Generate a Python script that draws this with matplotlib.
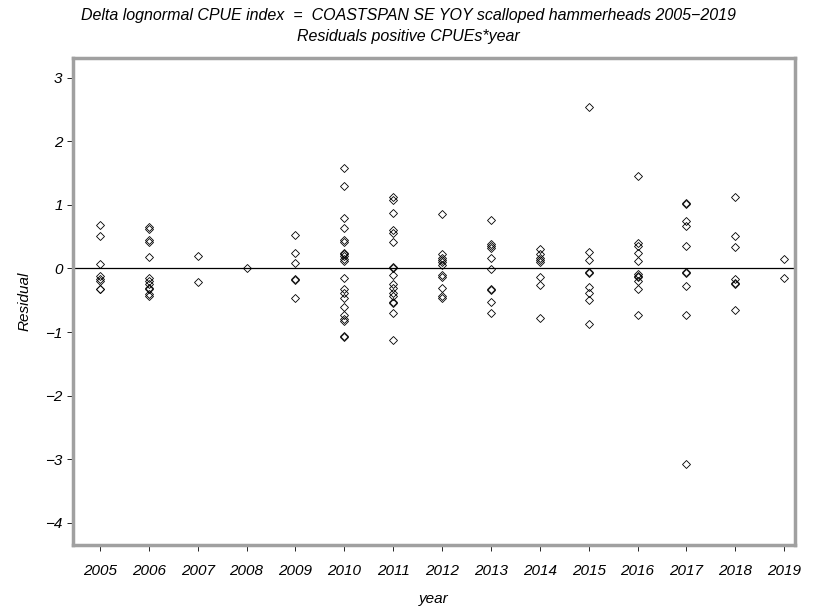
import matplotlib.pyplot as plt
from matplotlib.ticker import MultipleLocator

plt.rcParams['font.family'] = ['Liberation Sans Narrow', 'Liberation Sans', 'DejaVu Sans']
plt.rcParams['font.style'] = 'italic'

# residuals, one list per year
years = list(range(2005, 2020))
res_2005 = [0.69, 0.51, 0.07, -0.12, -0.16, -0.2, -0.33, -0.33]
res_2006 = [0.65, 0.62, 0.45, 0.42, 0.18, -0.15, -0.2, -0.25, -0.3, -0.33, -0.4, -0.43]
res_2007 = [0.2, -0.22]
res_2008 = [0.0]
res_2009 = [0.52, 0.24, 0.09, -0.16, -0.18, -0.46]
res_2010 = [1.58, 1.3, 0.79, 0.63, 0.45, 0.42, 0.25, 0.22, 0.2, 0.15, 0.11,
            -0.15, -0.33, -0.38, -0.46, -0.6, -0.74, -0.8, -0.83, -1.06, -1.08]
res_2011 = [1.12, 1.08, 0.88, 0.6, 0.55, 0.41, 0.03, 0.01, -0.1, -0.25, -0.3,
            -0.38, -0.44, -0.52, -0.55, -0.7, -1.12]
res_2012 = [0.86, 0.22, 0.17, 0.13, 0.1, 0.06, -0.1, -0.13, -0.3, -0.44, -0.47]
res_2013 = [0.76, 0.39, 0.35, 0.32, 0.16, -0.01, -0.32, -0.34, -0.52, -0.7]
res_2014 = [0.3, 0.22, 0.17, 0.13, 0.1, -0.13, -0.26, -0.78]
res_2015 = [2.54, 0.26, 0.14, -0.05, -0.07, -0.29, -0.39, -0.5, -0.87]
res_2016 = [1.45, 0.4, 0.35, 0.25, 0.11, -0.09, -0.12, -0.14, -0.2, -0.33, -0.73]
res_2017 = [1.03, 1.01, 0.74, 0.67, 0.35, -0.05, -0.07, -0.27, -0.73, -3.07]
res_2018 = [1.13, 0.51, 0.33, -0.16, -0.23, -0.25, -0.66]
res_2019 = [0.15, -0.15]

residuals = [res_2005, res_2006, res_2007, res_2008, res_2009, res_2010, res_2011,
             res_2012, res_2013, res_2014, res_2015, res_2016, res_2017, res_2018, res_2019]

fig = plt.figure(figsize=(8.17, 6.14), dpi=100)
ax = fig.add_axes([0.0894, 0.1124, 0.8836, 0.7931])

for yr, vals in zip(years, residuals):
    ax.plot([yr] * len(vals), vals, linestyle='none', marker='D', markersize=4.2,
            markerfacecolor='none', markeredgecolor='black', markeredgewidth=0.6)

ax.axhline(0, color='black', linewidth=0.9, zorder=0)

ax.set_xlim(2004.45, 2019.22)
ax.set_ylim(-4.35, 3.31)
ax.set_xticks(years)
ax.set_xticklabels([str(y) for y in years])
ax.set_yticks(range(-4, 4))
ax.set_yticklabels(['\u22124', '\u22123', '\u22122', '\u22121', '0', '1', '2', '3'])

for s in ax.spines.values():
    s.set_color('#a0a0a0')
    s.set_linewidth(2.5)

ax.tick_params(axis='both', direction='out', length=4, width=0.6, color='black',
               labelsize=11)
ax.tick_params(axis='x', pad=10)

ax.set_xlabel('year', fontsize=11, labelpad=10)
ax.set_ylabel('Residual', fontsize=11, labelpad=10)

fig.text(0.5, 0.975, 'Delta lognormal CPUE index  =  COASTSPAN SE YOY scalloped hammerheads 2005\u22122019',
         ha='center', va='center', fontsize=11.5)
fig.text(0.5, 0.94, 'Residuals positive CPUEs*year', ha='center', va='center', fontsize=11.5)

fig.savefig('out.png', dpi=100)
